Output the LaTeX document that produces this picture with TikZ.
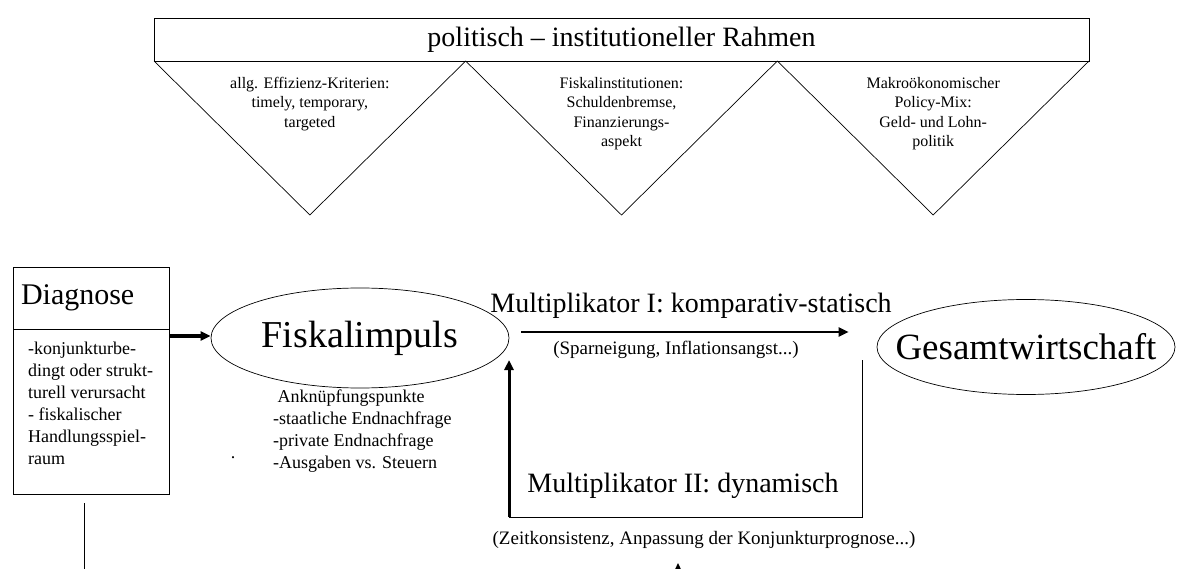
\documentclass[tikz,border=0pt]{standalone}
\usepackage{fontspec}
\setmainfont{Liberation Serif}
\usetikzlibrary{shapes.geometric,arrows.meta,positioning}

\tikzstyle{boxed}=[draw, line width=0.9pt, outer sep=0pt]
\tikzstyle{oval}=[draw, ellipse, line width=0.7pt, inner sep=0pt]
\tikzstyle{wedge}=[draw, line width=0.7pt]
\tikzstyle{small}=[font=\fontsize{16}{19.5}\selectfont, align=center, inner sep=0pt]
\tikzstyle{plain}=[font=\fontsize{18}{22}\selectfont, align=left, inner sep=0pt]
\tikzstyle{note}=[font=\fontsize{19}{22}\selectfont, inner sep=0pt]
\tikzstyle{big}=[font=\fontsize{28}{32}\selectfont, inner sep=0pt]
\tikzstyle{impulse}=[draw, -{Triangle[length=10pt, width=9pt]}, line width=2pt]

\begin{document}
\begin{tikzpicture}[x=1pt, y=-1pt]
	\useasboundingbox (0,0) rectangle (1177,569);
	\clip (0,0) rectangle (1177,569);
	\node[boxed, minimum width=935pt, minimum height=43pt, font=\fontsize{28}{32}\selectfont] (rahmen) at (621.5,39.5) {politisch -- institutioneller Rahmen};
	\foreach \i/\name/\txt in {0/effizienz/{allg. Effizienz-Kriterien:\\timely, temporary,\\targeted},
				1/fiskal/{Fiskalinstitutionen:\\Schuldenbremse,\\Finanzierungs-\\aspekt},
				2/makro/{Makroökonomischer\\Policy-Mix:\\Geld- und Lohn-\\politik}} {
		\draw[wedge] (154+311.67*\i,61) -- (309.83+311.67*\i,215) -- (465.67+311.67*\i,61);
		\node[small, anchor=north] (\name) at (309.83+311.67*\i,77) {\txt};
	}

	\node[boxed, minimum width=156pt, minimum height=62pt, anchor=north west, font=\fontsize{30}{34}\selectfont,
		text width=140pt, align=left, inner xsep=8pt] (diag) at (13,267) {Diagnose};
	\coordinate (diagcorner) at ([shift={(156,165)}]diag.south west);
	\draw[boxed] (diag.south west) rectangle (diagcorner);
	\node[plain, anchor=north west] (diagtext) at ([shift={(15,13)}]diag.south west)
		{-konjunkturbe-\\dingt oder strukt-\\turell verursacht\\- fiskalischer\\Handlungsspiel-\\raum};
	\node[oval, minimum width=298pt, minimum height=100pt, font=\fontsize{38}{40}\selectfont] (fisk) at (360,338) {Fiskalimpuls};
	\node[plain, anchor=north west] (ankn) at (273,390)
		{\ Anknüpfungspunkte\\-staatliche Endnachfrage\\-private Endnachfrage\\-Ausgaben vs. Steuern};
	\node[plain] (dot) at (233,458) {.};
	\node[oval, minimum width=298pt, minimum height=95pt, inner xsep=-60pt, font=\fontsize{37}{40}\selectfont] (gesamt) at (1026,347) {Gesamtwirtschaft};

	\node[big] (multone) at (691,306) {Multiplikator I: komparativ-statisch};
	\node[note] (spar) at (676,350) {(Sparneigung, Inflationsangst...)};
	\node[big] (multtwo) at (683,486) {Multiplikator II: dynamisch};
	\node[note] (zeit) at (704,540) {(Zeitkonsistenz, Anpassung der Konjunkturprognose...)};

	\coordinate (mstart) at ([shift={(12,-6)}]fisk.east);
	\coordinate (mend) at ([xshift=-28pt]gesamt.west |- mstart);
	\coordinate (loopin) at (862,360);
	\coordinate (loopcorner) at (509,517);
	\coordinate (looptip) at (509,360);
	\coordinate (zeitfoot) at (678,600);
	\coordinate (zeittip) at (678,563);
	\coordinate (diagfoot) at (84,503);
	\coordinate (diagend) at (84,600);

	\path[impulse, line width=4pt] ([yshift=-7pt]diag.south east) -- ([yshift=-7pt]diag.south east -| fisk.west);
	\path[impulse] (mstart) -- (mend);
	\draw[line width=1pt] (loopin) |- (loopcorner);
	\path[impulse, line width=3pt] (loopcorner) -- (looptip);
	\path[impulse] (zeitfoot) -- (zeittip);
	\draw[line width=1pt] (diagfoot) -- (diagend);
\end{tikzpicture}
\end{document}
